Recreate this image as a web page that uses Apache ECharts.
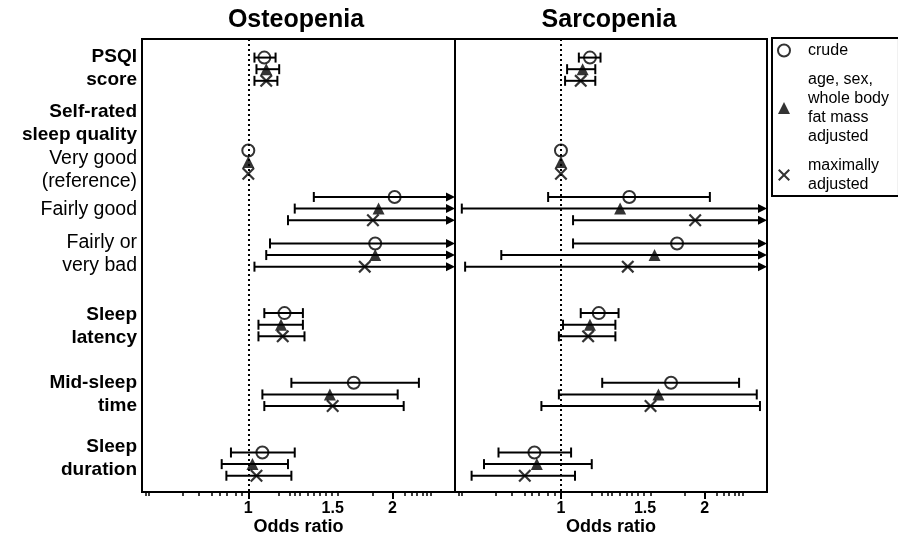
<!DOCTYPE html>
<html>
<head>
<meta charset="utf-8">
<script src="https://cdn.jsdelivr.net/npm/echarts@6/dist/echarts.min.js"></script>
<style>html,body{margin:0;padding:0;background:#fff}#c{width:898px;height:540px}</style>
</head>
<body>
<div id="c"></div>
<script>
// ---------- data ----------
const panelTitles = ['Osteopenia', 'Sarcopenia'];
const modelNames = ['crude', 'age, sex,\nwhole body\nfat mass\nadjusted', 'maximally\nadjusted'];
const rowNames = ['PSQI score', 'Very good (reference)', 'Fairly good', 'Fairly or very bad', 'Sleep latency', 'Mid-sleep time', 'Sleep duration'];
const rowPos = [2.5, 10.5, 14.5, 18.5, 24.5, 30.5, 36.5];
const modelOffset = [-1, 0, 1];

const labelLines = [['PSQI', 'score'], ['Self-rated', 'sleep quality'], ['Very good', '(reference)'], ['Fairly good'], ['Fairly or', 'very bad'], ['Sleep', 'latency'], ['Mid-sleep', 'time'], ['Sleep', 'duration']];
const labelBold = [true, true, false, false, false, true, true, true];
const labelPos = [2.38, 7.12, 11.17, 14.58, 18.44, 24.6, 30.5, 36.03];

const xTickValues = [1, 1.5, 2];
const xTickLabels = ['1', '1.5', '2'];
const xMajorTicks = [1, 2];
const xMinorTicks = [0.61, 0.62, 0.73, 0.79, 0.84, 0.87, 0.90, 0.94, 0.97, 1.16, 1.22, 1.25, 1.28, 1.33, 1.37, 1.41, 1.45, 1.49, 1.54, 1.82, 2.12, 2.19, 2.25, 2.31, 2.36, 2.40];

// Osteopenia
const osteoCrudeOR = [1.08, 1, 2.02, 1.84, 1.19, 1.66, 1.07];
const osteoCrudeLo = [1.03, null, 1.37, 1.11, 1.08, 1.23, 0.92];
const osteoCrudeHi = [1.14, null, 3.2, 3.2, 1.30, 2.27, 1.25];
const osteoAdjOR = [1.09, 1, 1.87, 1.84, 1.17, 1.48, 1.02];
const osteoAdjLo = [1.04, null, 1.25, 1.09, 1.05, 1.07, 0.88];
const osteoAdjHi = [1.16, null, 3.2, 3.2, 1.30, 2.05, 1.21];
const osteoMaxOR = [1.09, 1, 1.82, 1.75, 1.18, 1.50, 1.04];
const osteoMaxLo = [1.03, null, 1.21, 1.03, 1.05, 1.08, 0.90];
const osteoMaxHi = [1.15, null, 3.2, 3.2, 1.31, 2.11, 1.23];
// Sarcopenia
const sarcoCrudeOR = [1.15, 1, 1.39, 1.75, 1.20, 1.70, 0.88];
const sarcoCrudeLo = [1.09, null, 0.94, 1.06, 1.10, 1.22, 0.74];
const sarcoCrudeHi = [1.21, null, 2.05, 3.2, 1.32, 2.36, 1.05];
const sarcoAdjOR = [1.11, 1, 1.33, 1.57, 1.15, 1.60, 0.89];
const sarcoAdjLo = [1.03, null, 0.62, 0.75, 1.01, 0.99, 0.69];
const sarcoAdjHi = [1.18, null, 3.2, 3.2, 1.30, 2.57, 1.16];
const sarcoMaxOR = [1.10, 1, 1.91, 1.38, 1.14, 1.54, 0.84];
const sarcoMaxLo = [1.02, null, 1.06, 0.63, 0.99, 0.91, 0.65];
const sarcoMaxHi = [1.18, null, 3.2, 3.2, 1.30, 2.61, 1.07];

const panels = [
  [[osteoCrudeOR, osteoCrudeLo, osteoCrudeHi], [osteoAdjOR, osteoAdjLo, osteoAdjHi], [osteoMaxOR, osteoMaxLo, osteoMaxHi]],
  [[sarcoCrudeOR, sarcoCrudeLo, sarcoCrudeHi], [sarcoAdjOR, sarcoAdjLo, sarcoAdjHi], [sarcoMaxOR, sarcoMaxLo, sarcoMaxHi]]
];

// ---------- styling ----------
const FONT = '"Liberation Sans", Arial, Helvetica, sans-serif';
const X_MIN = 0.6, X_MAX = 2.7, Y_MIN = -0.1, Y_MAX = 38.9;
const crossPath = 'path://M0,1.2 L1.2,0 L5,3.8 L8.8,0 L10,1.2 L6.2,5 L10,8.8 L8.8,10 L5,6.2 L1.2,10 L0,8.8 L3.8,5 Z';
const symbols = [
  {symbol: 'circle', symbolSize: 12, itemStyle: {color: 'rgba(255,255,255,0)', borderColor: '#000', borderWidth: 2}},
  {symbol: 'triangle', symbolSize: 12, itemStyle: {color: '#000'}},
  {symbol: crossPath, symbolSize: 13, itemStyle: {color: '#000'}}
];

function nearestIndex(arr, v) {
  let best = 0, bd = Infinity;
  for (let i = 0; i < arr.length; i++) {
    const d = Math.abs(arr[i] - v);
    if (d < bd) { bd = d; best = i; }
  }
  return best;
}

function renderBar(params, api) {
  const lo = api.value(0), hi = api.value(1), y = api.value(2);
  if (isNaN(lo) || isNaN(hi)) return null;
  const cs = params.coordSys;
  const left = cs.x, right = cs.x + cs.width;
  const p1 = api.coord([lo, y]);
  const p2 = api.coord([hi, y]);
  const yy = p1[1];
  const x1 = Math.max(p1[0], left);
  const arrow = p2[0] > right + 0.5;
  const x2 = arrow ? right : p2[0];
  const st = {stroke: '#000', lineWidth: 2, fill: null};
  const ch = [];
  ch.push({type: 'line', shape: {x1: x1, y1: yy, x2: arrow ? right - 5 : x2, y2: yy}, style: st});
  ch.push({type: 'line', shape: {x1: x1, y1: yy - 5, x2: x1, y2: yy + 5}, style: st});
  if (arrow) {
    ch.push({type: 'polygon', shape: {points: [[right, yy], [right - 9, yy - 4.5], [right - 9, yy + 4.5]]}, style: {fill: '#000'}});
  } else {
    ch.push({type: 'line', shape: {x1: x2, y1: yy - 5, x2: x2, y2: yy + 5}, style: st});
  }
  return {type: 'group', children: ch};
}

const grids = [
  {left: 142, right: 898 - 455, top: 39, bottom: 48, show: true, borderColor: '#000', borderWidth: 2, backgroundColor: 'transparent', containLabel: false, outerBoundsMode: 'none'},
  {left: 455, right: 898 - 767, top: 39, bottom: 48, show: true, borderColor: '#000', borderWidth: 2, backgroundColor: 'transparent', containLabel: false, outerBoundsMode: 'none'}
];
const titleCenters = [296, 609];

const xAxes = [], yAxes = [], series = [];
for (let g = 0; g < 2; g++) {
  xAxes.push({
    type: 'log', logBase: 10, gridIndex: g, min: X_MIN, max: X_MAX, position: 'bottom',
    axisLine: {show: true, onZero: false, lineStyle: {color: '#000', width: 2}},
    axisTick: {show: true, customValues: xMajorTicks, length: 7, lineStyle: {color: '#000', width: 2}},
    axisLabel: {show: true, customValues: xTickValues, color: '#000', fontFamily: FONT, fontWeight: 'bold', fontSize: 16, margin: 9,
      formatter: (v) => xTickLabels[nearestIndex(xTickValues, Number(v))]},
    splitLine: {show: false}, minorTick: {show: false},
    name: 'Odds ratio', nameLocation: 'middle', nameGap: 26, nameMoveOverlap: false,
    nameTextStyle: {color: '#000', fontFamily: FONT, fontWeight: 'bold', fontSize: 18}
  });
  xAxes.push({
    type: 'log', logBase: 10, gridIndex: g, min: X_MIN, max: X_MAX, position: 'bottom', offset: 0,
    axisLine: {show: false, onZero: false},
    axisTick: {show: true, customValues: xMinorTicks, length: 4, lineStyle: {color: '#000', width: 1.5}},
    axisLabel: {show: false}, splitLine: {show: false}
  });
  yAxes.push({
    type: 'value', gridIndex: g, inverse: true, min: Y_MIN, max: Y_MAX,
    axisLine: {show: false, onZero: false}, axisTick: {show: false}, splitLine: {show: false},
    axisLabel: g === 0 ? {
      show: true, customValues: labelPos, margin: 5, align: 'right',
      formatter: (v) => {
        const i = nearestIndex(labelPos, Number(v));
        return labelLines[i].map(t => '{' + (labelBold[i] ? 'b' : 'n') + '|' + t + '}').join('\n');
      },
      rich: {
        b: {fontFamily: FONT, fontWeight: 'bold', fontSize: 19, lineHeight: 23, color: '#000', align: 'right'},
        n: {fontFamily: FONT, fontWeight: 'normal', fontSize: 19.5, lineHeight: 23, color: '#000', align: 'right'}
      }
    } : {show: false}
  });

  for (let m = 0; m < 3; m++) {
    const [orv, lov, hiv] = panels[g][m];
    const barData = [];
    for (let i = 0; i < rowPos.length; i++) {
      if (lov[i] != null && hiv[i] != null) barData.push([lov[i], hiv[i], rowPos[i] + modelOffset[m]]);
    }
    series.push({
      type: 'custom', name: 'ci' + g + m, xAxisIndex: g * 2, yAxisIndex: g,
      renderItem: renderBar, data: barData, encode: {x: [0, 1], y: 2}, clip: false, silent: true, z: 2
    });
  }
  for (let m = 0; m < 3; m++) {
    const orv = panels[g][m][0];
    const s = Object.assign({
      type: 'scatter', name: modelNames[m], xAxisIndex: g * 2, yAxisIndex: g, z: 3, silent: true,
      data: orv.map((v, i) => [v, rowPos[i] + modelOffset[m]])
    }, symbols[m]);
    if (m === 0) {
      s.markLine = {silent: true, symbol: ['none', 'none'], label: {show: false},
        lineStyle: {color: '#000', width: 2, type: [2, 3]}, data: [{xAxis: 1}]};
    }
    series.push(s);
  }
}

const chart = echarts.init(document.getElementById('c'), null, {renderer: 'canvas'});
chart.setOption({
  animation: false,
  backgroundColor: '#fff',
  graphic: panelTitles.map((t, i) => ({
    type: 'text', x: titleCenters[i], y: 20, silent: true,
    style: {text: t, fill: '#000', font: 'bold 25px ' + FONT, textAlign: 'center', textVerticalAlign: 'middle'}
  })),
  legend: {
    data: modelNames, left: 772, top: 38, orient: 'vertical', selectedMode: false,
    itemWidth: 12, itemHeight: 12, itemGap: 10, padding: [3, 10, 2, 5],
    borderColor: '#000', borderWidth: 2,
    textStyle: {fontFamily: FONT, fontSize: 16, lineHeight: 19, color: '#000', padding: [0, 0, 0, 13]}
  },
  grid: grids,
  xAxis: xAxes,
  yAxis: yAxes,
  series: series
});
</script>
</body>
</html>
